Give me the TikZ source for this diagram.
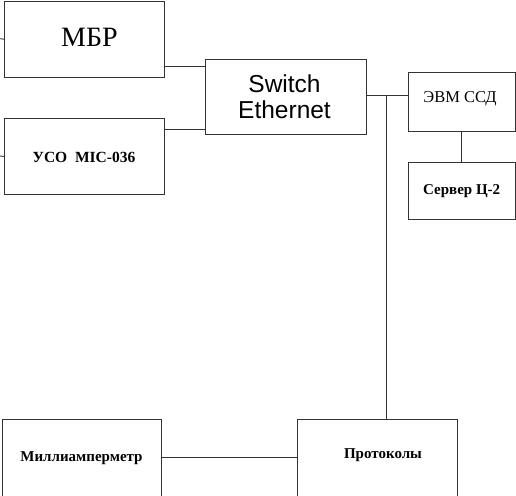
\documentclass[tikz,border=0pt]{standalone}
\usepackage{fontspec}
\setmainfont{Liberation Serif}
\newfontfamily\swfont{Liberation Sans}
\tikzset{
  box/.style={draw=black!80, line width=0.9pt, rectangle, inner sep=0pt, anchor=north west},
  wire/.style={draw=black!80, line width=0.9pt},
  lbl/.style={inner sep=0pt, text=black}
}
\begin{document}
\begin{tikzpicture}[x=1pt,y=-1pt]
\useasboundingbox (0,0) rectangle (516,495);
\clip (0,0) rectangle (516,495);
% boxes
\node[box, minimum width=159.5pt, minimum height=75.5pt] (mbr) at (4,1) {};
\node[lbl, font=\fontsize{28}{30}\selectfont, anchor=base] (mbrt) at (89.5,47) {МБР};
\node[box, minimum width=159.5pt, minimum height=76pt] (uso) at (4,118) {};
\node[lbl, font=\fontsize{15.5}{17}\selectfont\bfseries] (usot) at (84,157) {УСО\ \ MIC-036};
\node[box, minimum width=161pt, minimum height=75pt] (sw) at (205,59) {};
\node[lbl, font=\swfont\fontsize{24.5}{26}\selectfont, align=center, anchor=base] (swt) at (284.5,118) {Switch\\Ethernet};
\node[box, minimum width=107pt, minimum height=59pt] (evm) at (407.7,71.7) {};
\node[lbl, font=\fontsize{16.5}{18}\selectfont, anchor=base] (evmt) at (460,102) {ЭВМ ССД};
\node[box, minimum width=107pt, minimum height=57pt, font=\fontsize{15}{17}\selectfont\bfseries] (srv) at (407.7,162) {Сервер Ц-2};
\node[box, minimum width=159pt, minimum height=110pt] (mil) at (2,419) {};
\node[lbl, font=\fontsize{15}{17}\selectfont\bfseries] (milt) at (81.5,458) {Миллиамперметр};
\node[box, minimum width=159.5pt, minimum height=110pt] (pro) at (297.3,419) {};
\node[lbl, font=\fontsize{15}{17}\selectfont\bfseries] (prot) at (383,455) {Протоколы};
% free ends and junctions
\coordinate (s1) at (0,38.7);
\coordinate (s2) at (0,156);
\coordinate (y1) at (0,66.7);
\coordinate (y2) at (0,129);
\coordinate (y3) at (0,95);
\coordinate (j) at (386.7,95);
\coordinate (y4) at (0,457.3);
% connectors
\draw[wire] (mbr.west) -- (s1);
\draw[wire] (uso.west) -- (s2);
\draw[wire] (mbr.east |- y1) -- (sw.west |- y1);
\draw[wire] (uso.east |- y2) -- (sw.west |- y2);
\draw[wire] (sw.east |- y3) -- (evm.west |- y3);
\draw[wire] (j) -- (j |- pro.north);
\draw[wire] (evm.south) -- (srv.north);
\draw[wire] (mil.east |- y4) -- (pro.west |- y4);
\end{tikzpicture}
\end{document}
